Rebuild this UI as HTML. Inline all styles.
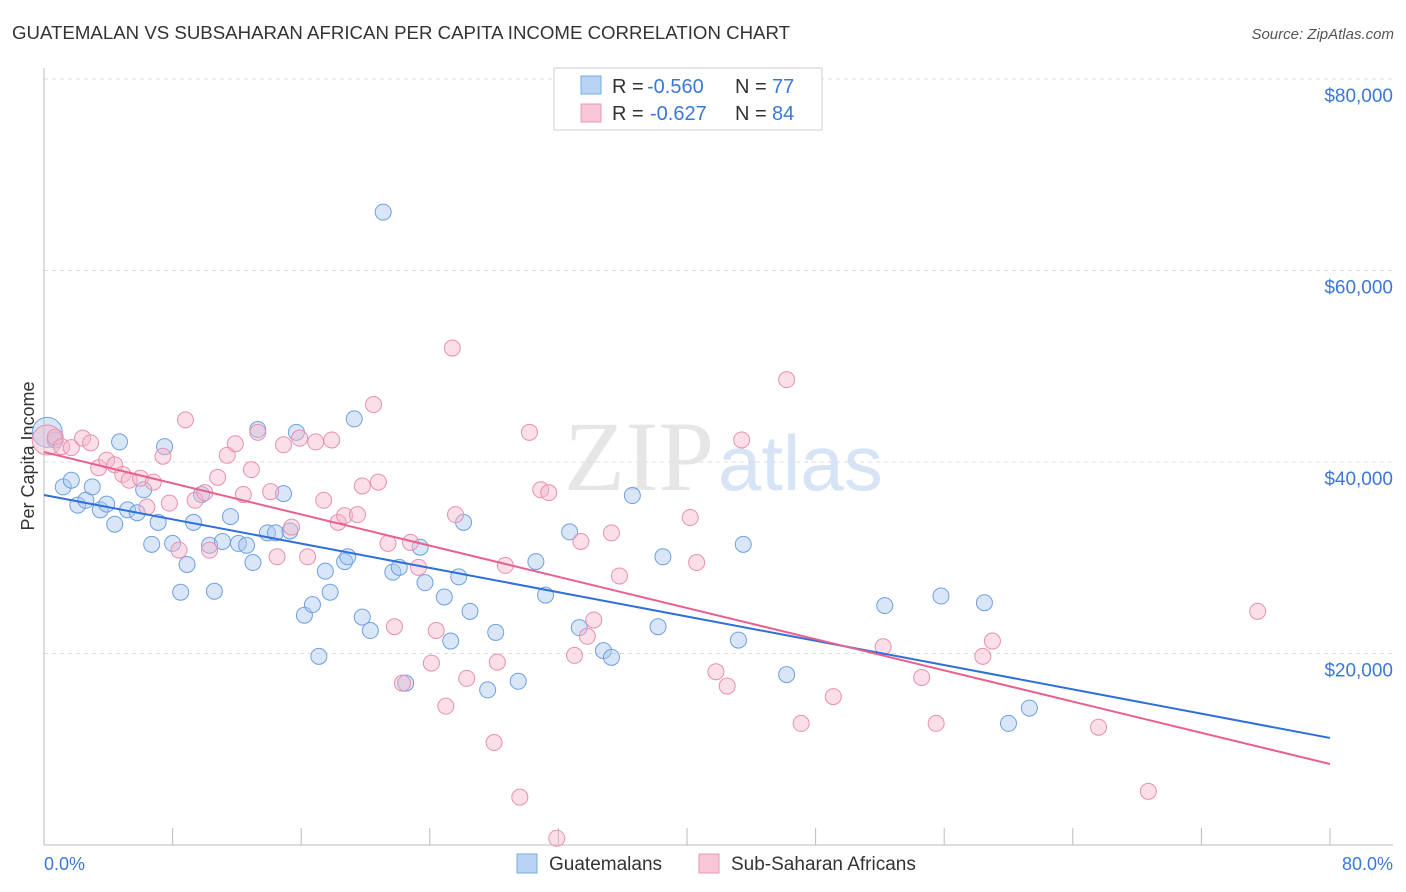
<!DOCTYPE html>
<html><head><meta charset="utf-8"><style>
body{margin:0;background:#fff;font-family:"Liberation Sans",sans-serif;}
#wrap{position:relative;width:1406px;height:892px;overflow:hidden;}
</style></head><body>
<div id="wrap">
<svg id="svg" width="1406" height="892">
<text x="12" y="39" font-size="18" fill="#333" textLength="778" lengthAdjust="spacingAndGlyphs">GUATEMALAN VS SUBSAHARAN AFRICAN PER CAPITA INCOME CORRELATION CHART</text>
<text x="1394" y="39" font-size="15" fill="#555" font-style="italic" text-anchor="end">Source: ZipAtlas.com</text>
<text x="714" y="490" font-size="100" fill="#e6e6e6" font-family="Liberation Serif" text-anchor="end">ZIP</text>
<text x="718" y="490" font-size="78" fill="#d6e4f5">atlas</text>
<text transform="translate(34,456) rotate(-90)" font-size="18" fill="#333" text-anchor="middle">Per Capita Income</text>
<g id="grid"></g><g id="pts"></g><g id="lines"></g>
<g>
<rect x="554" y="68" width="268" height="62" fill="#fff" stroke="#ccc"/>
<rect x="581" y="76" width="20" height="18" fill="#b8d3f3" stroke="#7aaae0"/>
<text x="612" y="93" font-size="20" fill="#333">R =</text>
<text x="647" y="93" font-size="20" fill="#3a78d8">-0.560</text>
<text x="735" y="93" font-size="20" fill="#333">N =</text>
<text x="772" y="93" font-size="20" fill="#3a78d8">77</text>
<rect x="581" y="104" width="20" height="18" fill="#f8c6d6" stroke="#e898b4"/>
<text x="612" y="120" font-size="20" fill="#333">R =</text>
<text x="650" y="120" font-size="20" fill="#3a78d8">-0.627</text>
<text x="735" y="120" font-size="20" fill="#333">N =</text>
<text x="772" y="120" font-size="20" fill="#3a78d8">84</text>
</g>
<g>
<rect x="517" y="854" width="20" height="19" fill="#b8d3f3" stroke="#7aaae0"/>
<text x="549" y="870" font-size="19" fill="#333">Guatemalans</text>
<rect x="699" y="854" width="20" height="19" fill="#f8c6d6" stroke="#e898b4"/>
<text x="731" y="870" font-size="19" fill="#333">Sub-Saharan Africans</text>
</g>
<text x="44" y="870" font-size="18" fill="#3a78d8">0.0%</text>
<text x="1393" y="870" font-size="18" fill="#3a78d8" text-anchor="end">80.0%</text>
</svg></div>
<script>
const yTicks=[20000,40000,60000,80000];
const yTickLabels=["$20,000","$40,000","$60,000","$80,000"];
const xTicks=[8,16,24,32,40,48,56,64,72,80];
const blueX=[0.2,0.7,1.2,1.7,2.1,2.6,3.0,3.5,3.9,4.4,4.7,5.2,5.8,6.2,6.7,7.1,7.5,8.0,8.5,8.9,9.3,9.8,10.3,10.6,11.1,11.6,12.1,12.6,13.0,13.3,13.9,14.4,14.9,15.3,15.7,16.2,16.7,17.1,17.5,17.8,18.7,18.9,19.3,19.8,20.3,21.1,21.7,22.1,22.5,23.4,23.7,24.9,25.3,25.8,26.1,26.5,27.6,28.1,29.5,30.6,31.2,32.7,33.3,34.8,35.3,36.6,38.2,38.5,43.2,43.5,46.2,52.3,55.8,58.5,60.0,61.3];
const blueY=[43100,42300,37400,38100,35500,36000,37400,35000,35600,33500,42100,35000,34700,37100,31400,33700,41600,31500,26400,29300,33700,36600,31300,26500,31700,34300,31500,31300,29500,43400,32600,32600,36700,32800,43100,24000,25100,19700,28600,26400,29600,30100,44500,23800,22400,66100,28500,29000,16900,31100,27400,25900,21300,28000,33700,24400,16200,22200,17100,29600,26100,32700,22700,20300,19600,36500,22800,30100,21400,31400,17800,25000,26000,25300,12700,14300];
const pinkX=[0.2,0.7,1.1,1.7,2.4,2.9,3.4,3.9,4.4,4.9,5.3,6.0,6.4,6.8,7.4,7.8,8.4,8.8,9.4,10.0,10.3,10.8,11.4,11.9,12.4,12.9,13.3,14.1,14.5,14.9,15.4,15.9,16.4,16.9,17.4,17.9,18.3,18.7,19.5,19.8,20.5,20.8,21.4,21.8,22.3,22.8,23.3,24.1,24.4,25.0,25.4,25.6,26.3,28.0,28.2,28.7,29.6,30.2,30.9,31.4,31.9,33.0,33.4,33.8,34.2,35.3,35.8,40.2,40.6,41.8,42.5,43.4,46.2,47.1,49.1,52.2,54.6,55.5,58.4,59.0,65.6,68.7,75.5];
const pinkY=[42300,42600,41600,41500,42500,42000,39400,40200,39700,38700,38100,38300,35300,37900,40600,35700,30800,44400,36000,36800,30800,38400,40700,41900,36600,39200,43100,36900,30100,41800,33200,42500,30100,42100,36000,42300,33700,34400,34500,37500,46000,37900,31500,22800,16900,31600,29000,19000,22400,14500,51900,34500,17400,10700,19100,29200,5000,43100,37100,36800,700,19800,31700,21800,23500,32600,28100,34200,29500,18100,16600,42300,48600,12700,15500,20700,17500,12700,19700,21300,12300,5600,24400];
const blueLine=[36550,11180];
const pinkLine=[41040,8460];
const X0=44,X1=1330,YB=845,YPX=191.5/20000;
const sx=v=>X0+(v/80)*(X1-X0);
const sy=v=>YB-v*YPX;
const NS="http://www.w3.org/2000/svg";
function mk(t,a,p){const e=document.createElementNS(NS,t);for(const k in a)e.setAttribute(k,a[k]);p.appendChild(e);return e;}
const grid=document.getElementById('grid');
let g=mk('line',{x1:44,y1:79,x2:1393,y2:79,stroke:'#ddd','stroke-dasharray':'4,4'},grid);


yTicks.forEach((v,i)=>{
 const l=mk('line',{x1:44,y1:sy(v),x2:1393,y2:sy(v),stroke:'#ddd','stroke-dasharray':'4,4'},grid);
 
 
 const t=mk('text',{x:1393,y:sy(v)+23,'font-size':19,fill:'#3a78d8','text-anchor':'end'},grid);
 t.textContent=yTickLabels[i];
 
 
});
let ax=mk('line',{x1:44,y1:68,x2:44,y2:845,stroke:'#bbb'},grid);


ax=mk('line',{x1:44,y1:845,x2:1393,y2:845,stroke:'#bbb'},grid);


xTicks.forEach(v=>{
 const l=mk('line',{x1:sx(v),y1:828,x2:sx(v),y2:845,stroke:'#bbb'},grid);
 
 
});
const pts=document.getElementById('pts');
function draw(xs,ys,fill,stroke,name){
 xs.forEach((x,i)=>{
  const c=mk('circle',{cx:sx(x),cy:sy(ys[i]),r:i===0?15:8,fill:fill,'fill-opacity':0.45,stroke:stroke,'stroke-width':1},pts);
  
  
 });
}
draw(blueX,blueY,'#a8c8f0','#6fa0e0','guatemalan-point');
draw(pinkX,pinkY,'#f5b8cc','#e890b0','subsaharan-point');
const lines=document.getElementById('lines');
let ln=mk('line',{x1:sx(0),y1:sy(blueLine[0]),x2:sx(80),y2:sy(blueLine[1]),stroke:'#2e6fd8','stroke-width':2},lines);


ln=mk('line',{x1:sx(0),y1:sy(pinkLine[0]),x2:sx(80),y2:sy(pinkLine[1]),stroke:'#e8608e','stroke-width':2},lines);


</script>
</body></html>
